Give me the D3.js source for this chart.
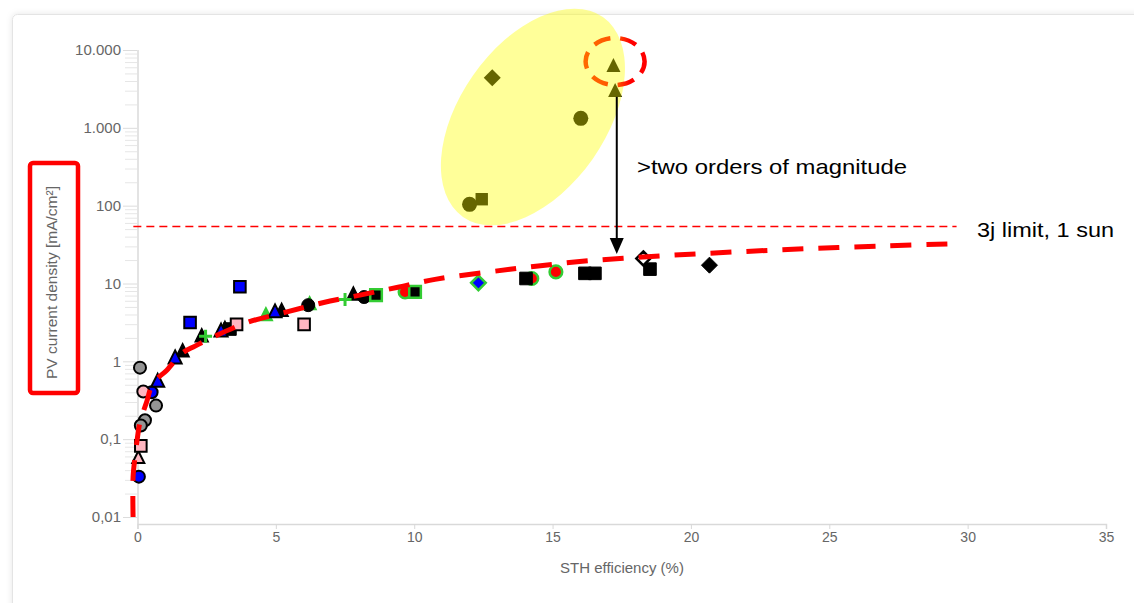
<!DOCTYPE html>
<html>
<head>
<meta charset="utf-8">
<script src="https://cdn.jsdelivr.net/npm/d3@7/dist/d3.min.js"></script>
<style>
html,body{margin:0;padding:0;background:#fff;}
svg{display:block;font-family:Arial,"Liberation Sans",Helvetica,sans-serif;}
</style>
</head>
<body>
<svg id="chart" width="1134" height="603"></svg>
<script>
// ---------------- data ----------------
const xTicks = [0, 5, 10, 15, 20, 25, 30, 35];
const yTicks = [0.01, 0.1, 1, 10, 100, 1000, 10000];
const yTickLabels = ["0,01", "0,1", "1", "10", "100", "1.000", "10.000"];
const xTitle = "STH efficiency (%)";
const yTitle = "PV current density [mA/cm²]";

const grayCircles   = [[0.09, 0.83], [0.67, 0.27], [0.27, 0.175], [0.12, 0.15]];
const blueCircles   = [[0.51, 0.40], [0.05, 0.033]];
const pinkCircles   = [[0.21, 0.41]];
const pinkTriangles = [[0.03, 0.059]];
const redGreenCircles = [[9.67, 7.8], [14.25, 11.6], [15.12, 14.1]];
const blackSquares  = [[3.34, 2.6], [14.04, 11.6], [16.17, 13.5], [16.53, 13.5], [18.52, 15.3]];
const pinkSquares   = [[0.12, 0.082], [3.58, 2.98], [6.02, 2.98]];
const blueSquares   = [[1.9, 3.16], [3.7, 9.1]];
const blackTriangles = [[1.63, 1.39], [2.32, 2.17], [3.16, 2.7], [5.21, 4.6], [7.8, 7.46]];
const blueTriangles = [[0.73, 0.57], [1.36, 1.14], [3.02, 2.52], [4.97, 4.45]];
const greenTriangles = [[4.64, 4.05], [6.22, 5.6]];
const blackCircles  = [[6.17, 5.27], [8.19, 6.7]];
const greenPlus     = [[2.46, 2.1], [7.5, 6.25]];
const blackGreenSquares = [[8.62, 7.1], [10.03, 7.8]];
const blueGreenDiamonds = [[12.32, 10.2]];
const blackDiamonds = [[20.67, 17.2]];
const hollowDiamonds = [[18.28, 21]];

// high-concentration points (under the yellow highlight)
const hiDiamonds  = [[12.82, 4400]];
const hiCircles   = [[16.02, 1324], [12.0, 104]];
const hiSquares   = [[12.44, 121]];
const hiTriangles = [[17.2, 6410], [17.26, 3060]];

// trend curve
const trendCurve = [[-0.16, 0.01], [-0.16, 0.0325], [-0.09, 0.0587], [0, 0.106], [0.09, 0.166],
  [0.33, 0.30], [0.56, 0.525], [1.06, 0.77], [1.6, 1.26], [2.08, 1.57], [2.73, 2.05],
  [4.0, 3.19], [5.33, 4.25], [6.69, 5.65], [8.04, 7.1], [9.37, 8.9], [10.75, 11.3],
  [13.46, 15.2], [16.17, 19.4], [18.94, 22.7], [21.66, 25.5], [24.42, 28.2],
  [27.17, 30.6], [29.54, 32.4]];

const limitValue = 54;          // 3j limit, 1 sun
const limitRange = [-0.15, 29.6];
const limitLabel = "3j limit, 1 sun";
const arrowX = 17.32;
const arrowFrom = 2500, arrowTo = 23.9;
const arrowLabel = ">two orders of magnitude";
const highlightCenter = [14.29, 1377];
const targetCenter = [17.26, 7114];

// ---------------- scales ----------------
const svg = d3.select("#chart");
const x = d3.scaleLinear().domain([0, 35]).range([137.5, 1106]);
const y = d3.scaleLog().domain([0.01, 10000]).range([517, 50]);
const axisBottomY = 524;

// panel
const defs = svg.append("defs");
const f = defs.append("filter").attr("id", "sh").attr("x", "-5%").attr("y", "-5%").attr("width", "110%").attr("height", "110%");
f.append("feDropShadow").attr("dx", 0).attr("dy", 0).attr("stdDeviation", 3)
  .attr("flood-color", "#000").attr("flood-opacity", 0.10);
const grad = defs.append("linearGradient").attr("id", "tg").attr("x1", "0").attr("x2", "1").attr("y1", "0").attr("y2", "0");
grad.append("stop").attr("offset", "0%").attr("stop-color", "#ff6a00");
grad.append("stop").attr("offset", "55%").attr("stop-color", "#ff5000");
grad.append("stop").attr("offset", "75%").attr("stop-color", "#ff0000");
grad.append("stop").attr("offset", "100%").attr("stop-color", "#ff0000");

svg.append("rect").attr("x", 12.5).attr("y", 14.5).attr("width", 1200).attr("height", 700)
  .attr("rx", 5).attr("fill", "#fff").attr("stroke", "#e4e4e4").attr("filter", "url(#sh)");

// ---------------- axes ----------------
const minor = [];
for (let e = -2; e < 4; e++) for (let m = 2; m <= 9; m++) minor.push(m * Math.pow(10, e));
svg.append("g").attr("transform", "translate(138,0)")
  .call(d3.axisLeft(y).tickValues(minor).tickSize(13).tickFormat(""))
  .call(g => g.select(".domain").remove())
  .call(g => g.selectAll(".tick line").attr("stroke", "#e6e6e6"));

const yAxis = svg.append("g").attr("transform", "translate(138,0)")
  .call(d3.axisLeft(y).tickValues(yTicks).tickSize(15).tickPadding(2)
    .tickFormat((d, i) => yTickLabels[i]));
yAxis.select(".domain").remove();
yAxis.selectAll(".tick line").attr("stroke", "#dcdcdc");
yAxis.selectAll(".tick text").attr("fill", "#666").attr("font-size", 15)
  .attr("font-family", "Arial, 'Liberation Sans', sans-serif");

svg.append("line").attr("x1", 138).attr("x2", 138).attr("y1", 50).attr("y2", axisBottomY)
  .attr("stroke", "#e3e3e3").attr("stroke-width", 2);

const xAxis = svg.append("g").attr("transform", `translate(0,${axisBottomY})`)
  .call(d3.axisBottom(x).tickValues(xTicks).tickSize(5).tickPadding(3).tickFormat(d3.format("d")));
xAxis.select(".domain").attr("stroke", "#d9d9d9").attr("stroke-width", 1.5);
xAxis.selectAll(".tick line").attr("stroke", "#d9d9d9");
xAxis.selectAll(".tick text").attr("fill", "#666").attr("font-size", 14)
  .attr("font-family", "Arial, 'Liberation Sans', sans-serif");

svg.append("text").attr("x", 622).attr("y", 573).attr("text-anchor", "middle")
  .attr("fill", "#666").attr("font-size", 15).text(xTitle);

svg.append("text").attr("transform", "translate(57,282.5) rotate(-90)").attr("text-anchor", "middle")
  .attr("fill", "#666").attr("font-size", 15.5).text(yTitle);
svg.append("rect").attr("x", 30).attr("y", 163).attr("width", 48).attr("height", 230).attr("rx", 3)
  .attr("fill", "none").attr("stroke", "#ff0000").attr("stroke-width", 4.5);

// ---------------- markers ----------------
function shape(type, r) {
  switch (type) {
    case "circle": return `M${-r},0A${r},${r} 0 1,0 ${r},0A${r},${r} 0 1,0 ${-r},0Z`;
    case "square": return `M${-r},${-r}H${r}V${r}H${-r}Z`;
    case "triangle": return `M0,${-r}L${r},${r}L${-r},${r}Z`;
    case "diamond": return `M0,${-r}L${r},0L0,${r}L${-r},0Z`;
    case "plus": return `M${-r},0H${r}M0,${-r}V${r}`;
  }
}
function draw(data, type, r, fill, stroke, sw) {
  svg.append("g").selectAll("path").data(data).join("path")
    .attr("transform", d => `translate(${x(d[0])},${y(d[1])})`)
    .attr("d", shape(type, r))
    .attr("fill", fill).attr("stroke", stroke).attr("stroke-width", sw)
    .attr("stroke-linejoin", "miter");
}
const BL = "#0000ff", GR = "#33cc33", PK = "#ffb6c1", GY = "#949494";

draw(grayCircles, "circle", 6, GY, "#000", 2);
draw(blueCircles, "circle", 6, BL, "#000", 2);
draw(pinkCircles, "circle", 6, PK, "#000", 2);
draw(pinkTriangles, "triangle", 6, PK, "#000", 2);
draw(redGreenCircles, "circle", 6.3, "#ff0000", GR, 2.5);
draw(blackSquares, "square", 6.3, "#000", "#000", 1);
draw(pinkSquares, "square", 5.8, PK, "#000", 2);
draw(blueSquares, "square", 5.8, BL, "#000", 2);
draw(blackTriangles, "triangle", 6.5, "#000", "#000", 1.5);
draw(greenTriangles, "triangle", 6.5, GR, GR, 1.5);
draw(blueTriangles, "triangle", 6.5, BL, "#000", 2);
draw(blackCircles, "circle", 6.5, "#000", "#000", 1);
draw(greenPlus, "plus", 6.5, "none", GR, 3);
draw(blackGreenSquares, "square", 5.8, "#000", GR, 2.5);
draw(blueGreenDiamonds, "diamond", 7.3, BL, GR, 2.5);
draw(hollowDiamonds, "diamond", 7, "#fff", "#000", 2.5);
draw(blackDiamonds, "diamond", 8, "#000", "#000", 1);

// high points (black, tinted by the highlight on top)
draw(hiDiamonds, "diamond", 8.5, "#000", "none", 0);
draw(hiCircles, "circle", 7.5, "#000", "none", 0);
draw(hiSquares, "square", 6.2, "#000", "none", 0);
draw(hiTriangles, "triangle", 7, "#000", "none", 0);

// ---------------- trend and limit ----------------
svg.append("path").datum(trendCurve)
  .attr("d", d3.line().x(d => x(d[0])).y(d => y(d[1])).curve(d3.curveCatmullRom.alpha(0.5)))
  .attr("fill", "none").attr("stroke", "#ff0000").attr("stroke-width", 5)
  .attr("stroke-dasharray", "21,15");

svg.append("line").attr("x1", x(limitRange[0])).attr("x2", x(limitRange[1]))
  .attr("y1", y(limitValue)).attr("y2", y(limitValue))
  .attr("stroke", "#ff0000").attr("stroke-width", 1.5).attr("stroke-dasharray", "8,5");

svg.append("text").attr("x", 977).attr("y", 236.5).attr("font-size", 21).attr("fill", "#000")
  .attr("textLength", 137).attr("lengthAdjust", "spacingAndGlyphs").text(limitLabel);

// ---------------- highlight ----------------
const hc = [x(highlightCenter[0]), y(highlightCenter[1])];
svg.append("ellipse").attr("transform", `translate(${hc[0]},${hc[1]}) rotate(-55)`)
  .attr("rx", 122).attr("ry", 73).attr("fill", "#ffff00").attr("fill-opacity", 0.4);

const tc = [x(targetCenter[0]), y(targetCenter[1])];
svg.append("ellipse").attr("cx", tc[0]).attr("cy", tc[1]).attr("rx", 29.5).attr("ry", 23.5)
  .attr("fill", "none").attr("stroke", "url(#tg)").attr("stroke-width", 4.5)
  .attr("stroke-dasharray", "17,10").attr("stroke-dashoffset", 5);

// arrow
const ax = x(arrowX), ay1 = y(arrowFrom), ay2 = y(arrowTo);
svg.append("line").attr("x1", ax).attr("x2", ax).attr("y1", ay1).attr("y2", ay2 - 14)
  .attr("stroke", "#000").attr("stroke-width", 2);
svg.append("path").attr("d", `M${ax - 7},${ay2 - 16}L${ax + 7},${ay2 - 16}L${ax},${ay2}Z`).attr("fill", "#000");

svg.append("text").attr("x", 637).attr("y", 174).attr("font-size", 21).attr("fill", "#000")
  .attr("textLength", 270).attr("lengthAdjust", "spacingAndGlyphs").text(arrowLabel);
</script>
</body>
</html>
